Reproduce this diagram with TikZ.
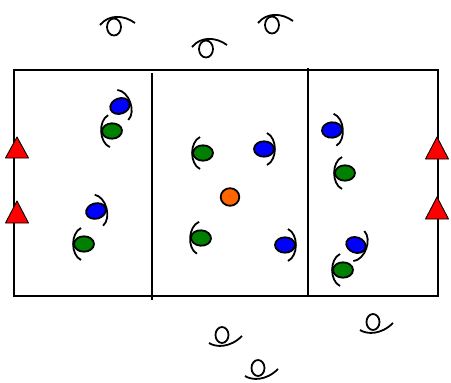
\documentclass[tikz,border=0pt]{standalone}
\definecolor{pblue}{RGB}{0,0,255}
\definecolor{pgreen}{RGB}{0,128,0}
\definecolor{porange}{RGB}{255,102,0}
\definecolor{pred}{RGB}{255,0,0}
\tikzset{
  fieldline/.style={line width=1.9pt,black},
  plline/.style={line width=1.8pt,black},
  spline/.style={line width=1.8pt,black},
  cone/.style={draw=black,line width=0.9pt,fill=pred,line join=round},
  pics/pright/.style={code={
    \draw[plline,fill=#1] (0,0) ellipse[x radius=10pt,y radius=7.7pt];
    \draw[plline] (3,-16) .. controls (13.5,-11) and (13.5,11) .. (3,16);}},
  pics/pleft/.style={code={
    \draw[plline,fill=#1] (0,0) ellipse[x radius=10pt,y radius=7.7pt];
    \draw[plline] (-3,-16) .. controls (-13.5,-11) and (-13.5,11) .. (-3,16);}},
  pics/spectop/.style={code={
    \draw[spline] (0,0) ellipse[x radius=7pt,y radius=8.5pt];
    \draw[spline] (-14,-2) .. controls (-5,-13) and (10,-12) .. (21,-4);}},
  pics/specbot/.style={code={
    \draw[spline] (0,0) ellipse[x radius=6.5pt,y radius=8pt];
    \draw[spline] (-13,8) .. controls (-6,12.5) and (8,13) .. (20,1);}},
}
\begin{document}
\begin{tikzpicture}[x=1pt,y=-1pt]
\useasboundingbox (0,0) rectangle (451,383);
% field
\draw[fieldline] (14,70) rectangle (438,296);
\draw[fieldline] (152,73) -- (152,300);
\draw[fieldline] (308,68) -- (308,295);
% cones
\draw[cone] (17,137) -- (28.5,158) -- (5.5,158) -- cycle;
\draw[cone] (17,201) -- (28.5,223) -- (5.5,223) -- cycle;
\draw[cone] (437,137) -- (448.5,159) -- (425.5,159) -- cycle;
\draw[cone] (437,197) -- (448.5,219) -- (425.5,219) -- cycle;
% players left zone
\pic[rotate=20] at (120,106) {pright=pblue};
\pic[rotate=3] at (112,131) {pleft=pgreen};
\pic[rotate=15] at (96,211) {pright=pblue};
\pic at (84,244) {pleft=pgreen};
% players middle zone
\pic at (203,153) {pleft=pgreen};
\pic at (264,149) {pright=pblue};
\draw[plline,fill=porange] (230,197) ellipse[x radius=9.3pt,y radius=8.8pt];
\pic[rotate=-4] at (201,238) {pleft=pgreen};
\pic at (285,245) {pright=pblue};
% players right zone
\pic[rotate=5] at (332,130) {pright=pblue};
\pic at (345,173) {pleft=pgreen};
\pic[rotate=-20] at (356,245) {pright=pblue};
\pic at (343,270) {pleft=pgreen};
% spectators
\pic at (114,27) {spectop};
\pic at (206,49) {spectop};
\pic at (272,25) {spectop};
\pic at (222,335) {specbot};
\pic at (258,368) {specbot};
\pic at (373,322) {specbot};
\end{tikzpicture}
\end{document}
